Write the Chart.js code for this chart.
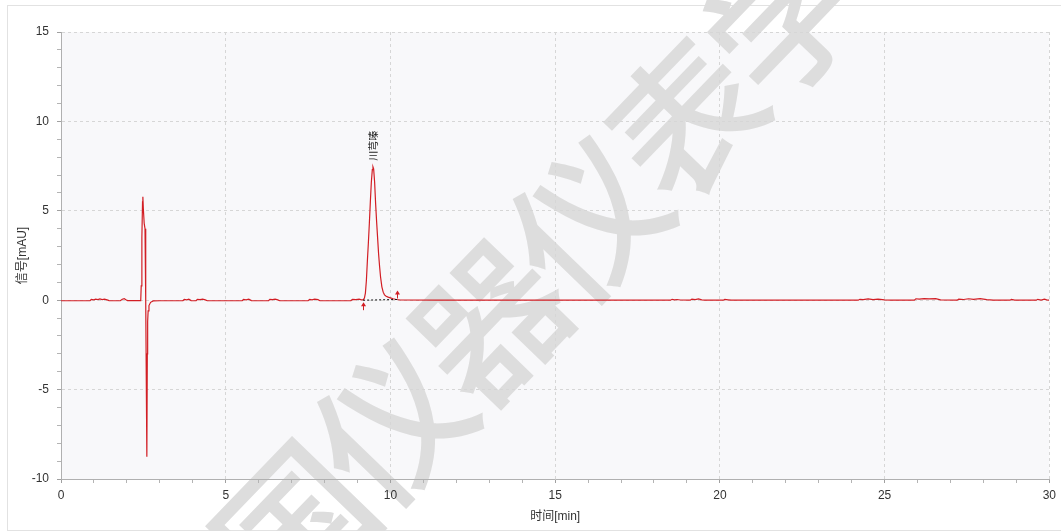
<!DOCTYPE html>
<html><head><meta charset="utf-8">
<script src="https://cdn.jsdelivr.net/npm/chart.js@4.4.1/dist/chart.umd.min.js"></script>
<style>html,body{margin:0;padding:0;background:#fff;overflow:hidden}#wrap{position:relative;width:1061px;height:531px}</style>
</head><body><div id="wrap"><canvas id="c" width="1061" height="531"></canvas></div>
<script>
// ---- data ----
const timeMin = [0.00,0.50,0.88,0.92,1.00,1.05,1.12,1.18,1.25,1.32,1.40,1.46,1.80,1.86,1.92,1.97,2.02,2.38,2.42,
 2.435,2.455,2.475,2.485,2.50,2.525,2.55,2.565,2.578,2.606,2.62,2.63,2.645,2.67,2.72,2.80,
 3.00,3.70,3.74,3.82,3.88,3.95,4.10,4.14,4.22,4.30,4.38,4.44,5.50,5.54,5.62,5.70,5.78,6.30,6.34,6.42,6.50,6.58,6.64,
 7.50,7.55,7.62,7.70,7.80,7.86,8.80,8.85,8.95,9.05,9.12,
 9.18,9.21,9.24,9.27,9.30,9.33,9.36,9.39,9.42,9.45,9.47,9.49,9.52,9.55,9.58,9.61,9.64,9.67,9.70,9.74,9.78,9.82,9.87,9.93,10.00,10.08,10.18,10.30,
 11.50,18.50,18.55,18.62,18.70,18.80,19.10,19.15,19.25,19.35,19.45,19.55,20.10,20.15,20.25,20.35,
 24.20,24.25,24.35,24.50,24.65,24.80,25.00,25.20,25.90,25.95,26.05,26.20,26.35,26.55,26.70,
 27.20,27.25,27.40,27.55,27.70,27.90,28.10,28.30,28.80,28.85,28.95,29.60,29.65,29.75,29.85,29.92,30.00];
const signalMAU = [-0.03,-0.03,-0.03,0.04,0.02,0.06,0.03,0.07,0.03,0.06,0.02,-0.02,-0.03,0.05,0.09,0.03,-0.02,-0.02,-0.02,
 0.8,3.5,5.5,5.78,5.1,4.3,4.0,2.5,0.0,-8.76,-3.0,-1.2,-0.6,-0.3,-0.12,-0.04,
 -0.03,-0.03,0.04,0.02,0.06,-0.02,-0.03,0.05,0.03,0.06,0.02,-0.03,-0.03,0.04,0.02,0.06,-0.02,-0.03,0.05,0.03,0.06,0.02,-0.03,
 -0.03,0.05,0.02,0.06,0.03,-0.03,-0.02,0.05,0.03,0.06,0.02,
 0.03,0.12,0.4,1.1,2.2,3.2,4.3,5.5,6.6,7.3,7.46,7.35,6.6,5.4,4.4,3.5,2.6,1.9,1.3,0.75,0.45,0.3,0.22,0.17,0.13,0.08,0.04,0.01,
 0.0,0.0,0.05,0.02,0.04,0.01,0.0,0.06,0.03,0.07,0.02,0.0,0.0,0.04,0.02,0.0,
 0.0,0.05,0.03,0.07,0.03,0.06,0.02,0.0,0.0,0.08,0.06,0.09,0.07,0.09,0.02,
 0.0,0.06,0.04,0.08,0.05,0.09,0.03,0.0,0.0,0.04,0.0,0.0,0.05,0.01,0.06,0.02,0.0];
const xLabelTicks = [0,5,10,15,20,25,30];
const yLabelTicks = [-10,-5,0,5,10,15];
const peakNames = ['川芎嗪'];
const peakTimes = [9.47];
const peakHeights = [7.46];
const baselineTimes = [9.17, 10.21];
const baselineValues = [0.0, 0.04];
const xTitle = '时间[min]';
const yTitle = '信号[mAU]';
const watermarkText = '中国仪器仪表学会';

// ---- styles ----
const FONT = "'Liberation Sans', Arial, 'Noto Sans CJK SC', sans-serif";
const RED = '#d21e24';

const bgPlugin = {
  id: 'bg',
  beforeDraw(chart) {
    const {ctx, chartArea: a} = chart;
    ctx.save();
    ctx.fillStyle = '#fff';
    ctx.fillRect(0, 0, chart.width, chart.height);
    ctx.strokeStyle = '#e2e2e2';
    ctx.lineWidth = 1;
    ctx.strokeRect(7.5, 5.5, chart.width + 10, chart.height - 6);
    ctx.fillStyle = '#f8f8fa';
    ctx.fillRect(a.left, a.top, a.right - a.left, a.bottom - a.top);
    // watermark
    const ang = -46 * Math.PI / 180;
    const step = 141;
    const cx = 490, cy = 322, idx = 3;
    ctx.fillStyle = '#dddddd';
    ctx.font = "500 150px 'Noto Sans CJK SC'";
    ctx.textAlign = 'center';
    ctx.textBaseline = 'middle';
    [...watermarkText].forEach((ch, i) => {
      const d = (i - idx) * step;
      ctx.save();
      ctx.translate(cx + d * Math.cos(ang), cy + d * Math.sin(ang));
      ctx.rotate(ang);
      ctx.fillText(ch, 0, 0);
      ctx.restore();
    });
    ctx.restore();
  }
};

const marksPlugin = {
  id: 'marks',
  afterDatasetsDraw(chart) {
    const {ctx, scales: {x, y}} = chart;
    ctx.save();
    // peak labels
    ctx.fillStyle = '#222';
    ctx.font = "10px 'Noto Sans CJK SC'";
    ctx.textAlign = 'left';
    ctx.textBaseline = 'middle';
    peakNames.forEach((n, i) => {
      const px = x.getPixelForValue(peakTimes[i]);
      const py = y.getPixelForValue(peakHeights[i]) - 6;
      ctx.save();
      ctx.translate(px, py);
      ctx.rotate(-Math.PI / 2);
      ctx.fillText(n, 0, 0);
      ctx.restore();
    });
    // baseline markers (arrows)
    ctx.fillStyle = RED;
    ctx.strokeStyle = RED;
    ctx.lineWidth = 1;
    const arrow = (px, tipY) => {
      ctx.beginPath();
      ctx.moveTo(px, tipY);
      ctx.lineTo(px - 2.5, tipY + 4);
      ctx.lineTo(px + 2.5, tipY + 4);
      ctx.closePath();
      ctx.fill();
      ctx.beginPath();
      ctx.moveTo(px, tipY + 3);
      ctx.lineTo(px, tipY + 8);
      ctx.stroke();
    };
    const y0a = y.getPixelForValue(baselineValues[0]);
    const y0b = y.getPixelForValue(baselineValues[1]);
    arrow(Math.round(x.getPixelForValue(baselineTimes[0])) + 0.5, y0a + 2);
    arrow(Math.round(x.getPixelForValue(baselineTimes[1])) + 0.5, y0b - 9);
    ctx.restore();
  }
};

const minorTicks = (min, max) => { const t = []; for (let v = min; v <= max; v++) t.push({value: v}); return t; };

new Chart(document.getElementById('c'), {
  type: 'line',
  data: {
    datasets: [
      {
        data: baselineTimes.map((t, i) => ({x: t, y: baselineValues[i]})),
        borderColor: '#111', borderWidth: 1, borderDash: [2, 2], pointRadius: 0, fill: false
      },
      {
        data: timeMin.map((t, i) => ({x: t, y: signalMAU[i]})),
        borderColor: RED, borderWidth: 1.2, pointRadius: 0, tension: 0, fill: false
      }
    ]
  },
  options: {
    responsive: false, animation: false, devicePixelRatio: 1,
    layout: {padding: {left: 0, top: 32, right: 11, bottom: 0}},
    plugins: {legend: {display: false}, tooltip: {enabled: false}},
    scales: {
      x: {
        type: 'linear', min: 0, max: 30,
        afterBuildTicks: s => { s.ticks = minorTicks(0, 30); },
        afterFit: s => { s.height = 52; },
        ticks: {autoSkip: false, maxRotation: 0, padding: 5, color: '#333', font: {family: FONT, size: 12},
          callback: v => xLabelTicks.includes(v) ? String(v) : ''},
        grid: {
          color: c => (c.tick && xLabelTicks.includes(c.tick.value) && c.tick.value !== 0) ? '#d6d6d6' : 'rgba(0,0,0,0)',
          tickColor: c => (c.tick && xLabelTicks.includes(c.tick.value)) ? '#a0a0a0' : '#b4b4b4',
          tickLength: 4, lineWidth: 1
        },
        border: {display: true, color: '#b0b0b0', width: 1, dash: [3, 3]},
        title: {display: true, text: xTitle, color: '#333', font: {family: FONT, size: 12}, padding: {top: 0, bottom: 7}}
      },
      y: {
        type: 'linear', min: -10, max: 15,
        afterBuildTicks: s => { s.ticks = minorTicks(-10, 15); },
        afterFit: s => { s.width = 61; },
        ticks: {autoSkip: false, padding: 8, color: '#333', font: {family: FONT, size: 12},
          callback: v => yLabelTicks.includes(v) ? String(v) : ''},
        grid: {
          color: c => (c.tick && yLabelTicks.includes(c.tick.value) && c.tick.value !== -10) ? '#d6d6d6' : 'rgba(0,0,0,0)',
          tickColor: c => (c.tick && yLabelTicks.includes(c.tick.value)) ? '#a0a0a0' : '#b4b4b4',
          tickLength: 4, lineWidth: 1
        },
        border: {display: true, color: '#b0b0b0', width: 1, dash: [3, 3]},
        title: {display: true, text: yTitle, color: '#333', font: {family: FONT, size: 12}, padding: {top: 15, bottom: 0}}
      }
    }
  },
  plugins: [bgPlugin, marksPlugin]
});
</script></body></html>
